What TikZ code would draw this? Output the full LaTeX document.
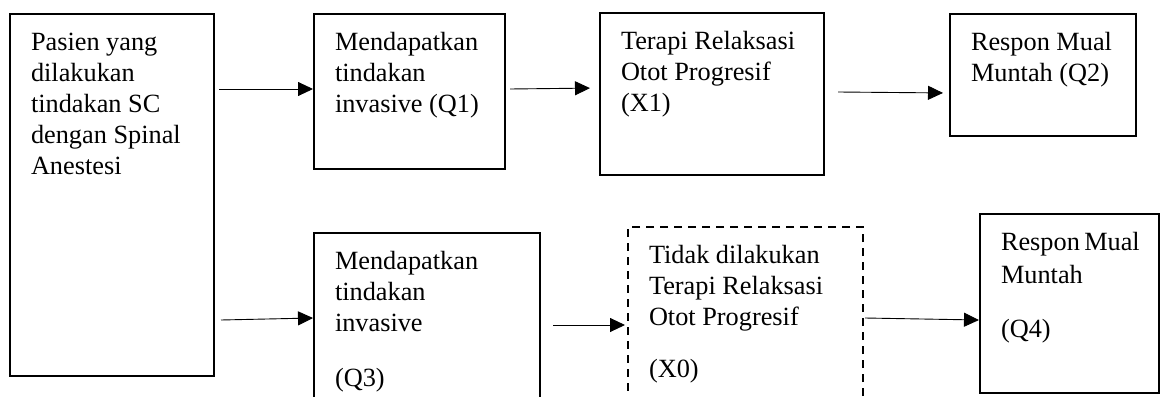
\documentclass[tikz,border=0pt]{standalone}
\usepackage{fontspec}
\setmainfont{Liberation Serif}
\usetikzlibrary{arrows.meta,positioning}
\tikzset{>={Triangle[length=15pt,width=14pt]}}
\newcommand{\boxtext}[3]{\parbox[c][#2][t]{#1}{\strut#3}}

\begin{document}
\begin{tikzpicture}[x=1pt,y=-1pt,
  box/.style={draw,line width=2pt,anchor=north west,inner sep=0pt,font=\fontsize{26.3}{31}\selectfont},
  arr/.style={->,line width=0.9pt}]
\useasboundingbox (0,0) rectangle (1161,396);
\clip (0,0) rectangle (1161,396);
\node[box,minimum width=204pt,minimum height=362pt] (pasien) at (9,13) {\boxtext{162pt}{332pt}{Pasien~yang\\ dilakukan\\ tindakan~SC\\ dengan~Spinal\\ Anestesi}};
\node[box,minimum width=191pt,minimum height=155pt] (q1) at (313,13) {\boxtext{149pt}{125pt}{Mendapatkan\\ tindakan\\ invasive~(Q1)}};
\node[box,minimum width=224pt,minimum height=162pt] (x1) at (599,12) {\boxtext{182pt}{132pt}{Terapi~Relaksasi\\ Otot~Progresif\\ (X1)}};
\node[box,minimum width=186pt,minimum height=122pt] (q2) at (949,13) {\boxtext{144pt}{92pt}{Respon~Mual\\ Muntah~(Q2)}};
\node[box,minimum width=226pt,minimum height=200pt] (q3) at (313,232) {\boxtext{184pt}{170pt}{Mendapatkan\\ tindakan\\ invasive\\[24pt] (Q3)}};
\node[box,dash pattern=on 8pt off 6pt,minimum width=235pt,minimum height=200pt] (x0) at (627,226) {\boxtext{193pt}{170pt}{Tidak~dilakukan\\ Terapi~Relaksasi\\ Otot~Progresif\\[21pt] (X0)}};
\node[box,minimum width=179pt,minimum height=179pt] (q4) at (979,213) {\boxtext{137pt}{149pt}{\vspace{2pt}Respon~Mual\\ Muntah\\[23pt] (Q4)}};
\draw[arr] ([xshift=4pt]pasien.east |- 0,89) -- (q1.west |- 0,89);
\draw[arr] ([xshift=6pt]pasien.east |- 0,320) -- (q3.west |- 0,318);
\draw[arr,shorten >=9pt] ([xshift=4pt]q1.east |- 0,89) -- (x1.west |- 0,88);
\draw[arr,shorten >=6pt] ([xshift=13pt]x1.east |- 0,92) -- (q2.west |- 0,93);
\draw[arr,shorten >=2pt] ([xshift=12pt]q3.east |- 0,325) -- (x0.west |- 0,325);
\draw[arr] ([xshift=1pt]x0.east |- 0,318) -- (q4.west |- 0,320);
\end{tikzpicture}
\end{document}
